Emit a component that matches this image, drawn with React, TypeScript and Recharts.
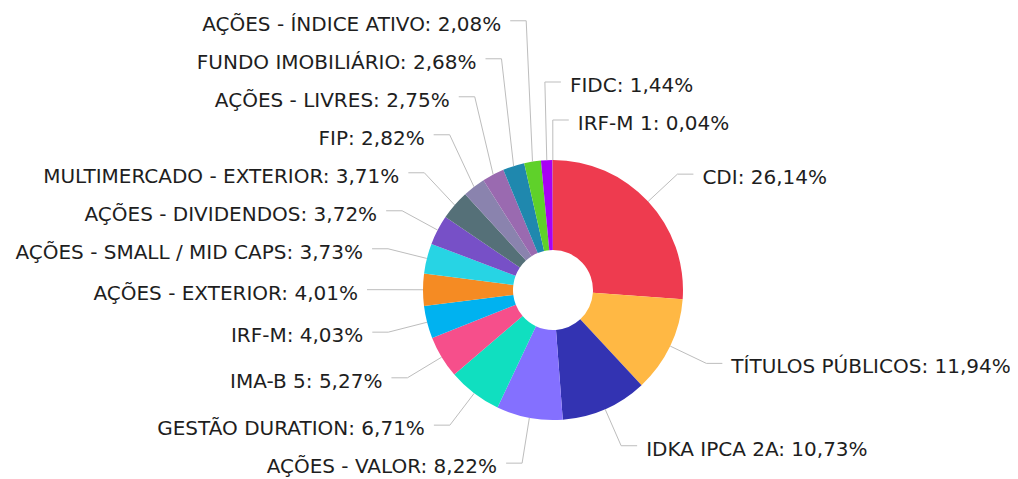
import React from 'react';
import { PieChart, Pie, Cell } from 'recharts';

const categories: string[] = [
  'CDI',
  'TÍTULOS PÚBLICOS',
  'IDKA IPCA 2A',
  'AÇÕES - VALOR',
  'GESTÃO DURATION',
  'IMA-B 5',
  'IRF-M',
  'AÇÕES - EXTERIOR',
  'AÇÕES - SMALL / MID CAPS',
  'AÇÕES - DIVIDENDOS',
  'MULTIMERCADO - EXTERIOR',
  'FIP',
  'AÇÕES - LIVRES',
  'FUNDO IMOBILIÁRIO',
  'AÇÕES - ÍNDICE ATIVO',
  'FIDC',
  'IRF-M 1',
];

const shares: number[] = [
  26.14, 11.94, 10.73, 8.22, 6.71, 5.27, 4.03, 4.01, 3.73, 3.72, 3.71, 2.82, 2.75, 2.68, 2.08, 1.44, 0.04,
];

const colors: string[] = [
  '#EE3B4F', '#FFB844', '#3333B2', '#8470FF', '#10DFC0', '#F64F8B', '#00B2F0', '#F58B23',
  '#27D4E4', '#7750C7', '#557078', '#8A83AE', '#9A6AB0', '#1F88AE', '#5FD12A', '#A800F5', '#F5A000',
];

const W = 1010;
const H = 471;
const CX = 545;
const CY = 282;
const R_OUT = 130;
const R_IN = 40;
const BEND = 40;
const SEG = 16;
const TEXT_GAP = 9;
const SPACING = 38;
const FONT = "'DejaVu Sans', sans-serif";
const FONT_SIZE = 20;

const data = categories.map((name, i) => ({ name, value: shares[i] }));

const fmt = (v: number) => v.toFixed(2).replace('.', ',') + '%';

type LabelPos = { right: boolean; y: number };

function computeLabelLayout(): LabelPos[] {
  const total = shares.reduce((a, b) => a + b, 0);
  let acc = 0;
  const items = shares.map((v, i) => {
    const theta = ((acc + v / 2) / total) * 360; // clockwise from top
    acc += v;
    const rad = (theta * Math.PI) / 180;
    const s = Math.sin(rad);
    const c = Math.cos(rad);
    const right = s >= -0.1;
    const natural = CY - (R_OUT + BEND) * c;
    const phi = theta > 180 ? theta - 360 : theta;
    const key = right ? Math.abs(90 - phi) : Math.abs(theta - 270);
    return { i, right, upper: c >= 0, natural, key, y: natural };
  });
  const groups = [
    items.filter((d) => d.right && d.upper),
    items.filter((d) => d.right && !d.upper),
    items.filter((d) => !d.right && d.upper),
    items.filter((d) => !d.right && !d.upper),
  ];
  groups.forEach((g) => {
    g.sort((a, b) => a.key - b.key);
    let prev: number | null = null;
    g.forEach((d) => {
      if (prev === null) {
        d.y = d.natural;
      } else if (d.upper) {
        d.y = Math.min(d.natural, prev - SPACING);
      } else {
        d.y = Math.max(d.natural, prev + SPACING);
      }
      prev = d.y;
    });
  });
  const out: LabelPos[] = [];
  items.forEach((d) => {
    out[d.i] = { right: d.right, y: d.y };
  });
  return out;
}

const layout = computeLabelLayout();

const RADIAN = Math.PI / 180;

const renderLabel = (props: any) => {
  const { cx, cy, midAngle, outerRadius, index, name, value } = props;
  const pos = layout[index];
  if (!pos) return null;
  const cos = Math.cos(-midAngle * RADIAN);
  const sin = Math.sin(-midAngle * RADIAN);
  const ex = cx + outerRadius * cos;
  const ey = cy + outerRadius * sin;
  const bx = cx + (outerRadius + BEND) * cos;
  const by = pos.y;
  const dir = pos.right ? 1 : -1;
  const hx = bx + dir * SEG;
  const tx = hx + dir * TEXT_GAP;
  return (
    <g key={`lbl-${index}`}>
      <polyline
        points={`${ex},${ey} ${bx},${by} ${hx},${by}`}
        fill="none"
        stroke="#bdbdbd"
        strokeWidth={1}
      />
      <text
        x={tx}
        y={by + 3}
        textAnchor={pos.right ? 'start' : 'end'}
        dominantBaseline="central"
        fontFamily={FONT}
        fontSize={FONT_SIZE}
        fill="#1e1e1e"
      >
        {`${name}: ${fmt(value)}`}
      </text>
    </g>
  );
};

export default function App() {
  return (
    <div style={{ width: W, height: H, background: '#fff' }}>
      <PieChart width={W} height={H} margin={{ top: 0, right: 0, bottom: 0, left: 0 }}>
        <Pie
          data={data}
          dataKey="value"
          nameKey="name"
          cx={CX}
          cy={CY}
          innerRadius={R_IN}
          outerRadius={R_OUT}
          startAngle={90}
          endAngle={-270}
          stroke="none"
          label={renderLabel}
          labelLine={false}
          isAnimationActive={false}
        >
          {data.map((d, i) => (
            <Cell key={d.name} fill={colors[i]} />
          ))}
        </Pie>
      </PieChart>
    </div>
  );
}
